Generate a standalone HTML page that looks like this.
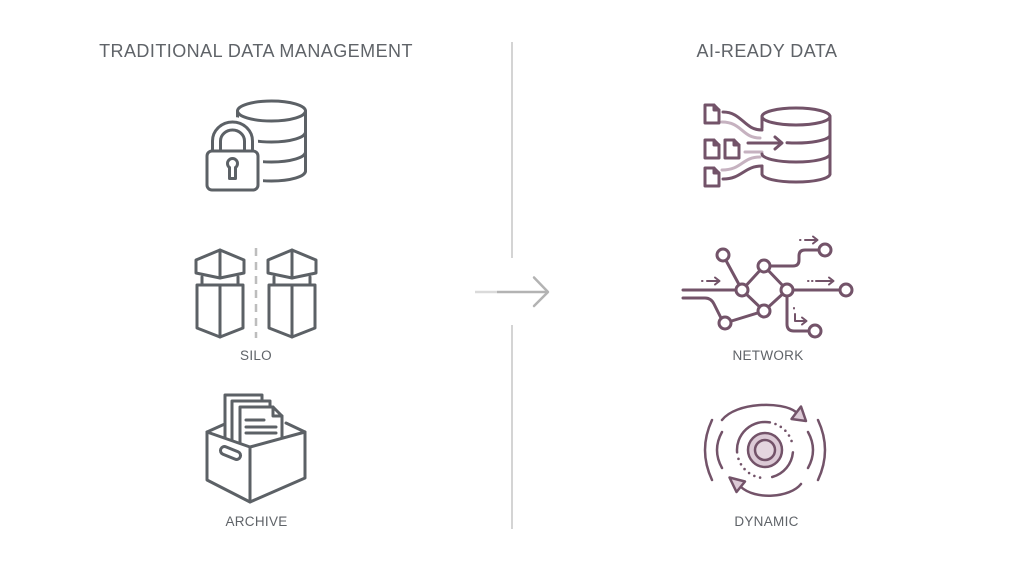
<!DOCTYPE html>
<html>
<head>
<meta charset="utf-8">
<style>
  html,body{margin:0;padding:0;background:#ffffff;}
  svg{display:block;}
  text{font-family:"Liberation Sans",sans-serif;fill:#5f6368;}
</style>
</head>
<body>
<svg width="1024" height="572" viewBox="0 0 1024 572" xmlns="http://www.w3.org/2000/svg">
  <rect width="1024" height="572" fill="#ffffff"/>

  <!-- Titles -->
  <text x="256" y="57" font-size="18" text-anchor="middle" letter-spacing="0.45">TRADITIONAL DATA MANAGEMENT</text>
  <text x="767" y="57" font-size="18" text-anchor="middle" letter-spacing="0.45">AI-READY DATA</text>

  <!-- Divider -->
  <line x1="512" y1="42" x2="512" y2="258" stroke="#d4d4d4" stroke-width="2"/>
  <line x1="512" y1="325" x2="512" y2="529" stroke="#d4d4d4" stroke-width="2"/>

  <!-- Center arrow -->
  <line x1="475" y1="292" x2="497" y2="292" stroke="#dadada" stroke-width="2.5"/>
  <line x1="497" y1="292" x2="547" y2="292" stroke="#b3b3b3" stroke-width="2.5"/>
  <polyline points="534,277.5 548,292 534,306" fill="none" stroke="#b3b3b3" stroke-width="2.5" stroke-linecap="round" stroke-linejoin="round"/>

  <!-- ============ LEFT: Lock + DB ============ -->
  <g fill="none" stroke="#5c6166" stroke-width="3" stroke-linecap="round" stroke-linejoin="round">
    <ellipse cx="271.5" cy="111" rx="34" ry="10"/>
    <line x1="305.5" y1="111" x2="305.5" y2="171"/>
    <line x1="237.5" y1="111" x2="237.5" y2="150"/>
    <path d="M237.5,132 A34,10 0 0 0 305.5,132"/>
    <path d="M237.5,152 A34,10 0 0 0 305.5,152"/>
    <path d="M237.5,171 A34,10 0 0 0 305.5,171"/>
  </g>
  <g fill="#ffffff" stroke="#ffffff" stroke-width="10" stroke-linejoin="round">
    <rect x="207" y="151" width="51" height="39" rx="5"/>
    <path d="M212,152 V141 A20.5,19 0 0 1 253,141 V152 Z"/>
  </g>
  <g fill="#ffffff" stroke="#5c6166" stroke-width="3" stroke-linecap="round" stroke-linejoin="round">
    <path d="M212.5,152 V141 A20,19 0 0 1 252.5,141 V152" fill="none"/>
    <path d="M220.5,152 V141 A12,11 0 0 1 244.5,141 V152" fill="none"/>
    <rect x="207" y="151" width="51" height="39" rx="5"/>
    <path d="M229.5,167.5 A5,5 0 1 1 235.5,167.5 L235.5,178.5 L229.5,178.5 Z"/>
  </g>

  <!-- ============ LEFT: Silo ============ -->
  <g fill="none" stroke="#5c6166" stroke-width="3" stroke-linecap="round" stroke-linejoin="round">
    <polygon points="196,260 220,250 244,260 244,273 220,278 196,273"/>
    <line x1="220" y1="250" x2="220" y2="278"/>
    <polyline points="202,277 202,285"/>
    <polyline points="238,277 238,285"/>
    <polygon points="197,285 243,285 243,328 220,337 197,328"/>
    <line x1="220" y1="285" x2="220" y2="337"/>
    <polygon points="268,260 292,250 316,260 316,273 292,278 268,273"/>
    <line x1="292" y1="250" x2="292" y2="278"/>
    <polyline points="274,277 274,285"/>
    <polyline points="310,277 310,285"/>
    <polygon points="269,285 315,285 315,328 292,337 269,328"/>
    <line x1="292" y1="285" x2="292" y2="337"/>
  </g>
  <line x1="256" y1="248" x2="256" y2="338" stroke="#bdbdbd" stroke-width="2.5" stroke-dasharray="8 6"/>
  <text x="256" y="360" font-size="13.5" text-anchor="middle" letter-spacing="0.3">SILO</text>

  <!-- ============ LEFT: Archive ============ -->
  <g fill="#ffffff" stroke="#5c6166" stroke-width="3" stroke-linecap="round" stroke-linejoin="round">
    <line x1="207" y1="432" x2="227" y2="423"/>
    <line x1="305" y1="432" x2="286" y2="423"/>
    <path d="M225,440 V395 H262 V440"/>
    <path d="M232,444 V401 H270 V444"/>
    <path d="M240,446 V407 H273 L282,416 V446"/>
    <path d="M273,407 V416 H282" fill="none"/>
    <line x1="246" y1="420" x2="264" y2="420"/>
    <line x1="246" y1="427" x2="276" y2="427"/>
    <line x1="246" y1="433" x2="276" y2="433"/>
    <polygon points="207,432 250,447 250,502 207,480"/>
    <polygon points="250,447 305,432 305,478 250,502"/>
  </g>
  <rect x="220" y="449" width="21" height="8" rx="4" fill="none" stroke="#5c6166" stroke-width="3" transform="rotate(22 230.5 453)"/>
  <text x="256.5" y="526" font-size="13.5" text-anchor="middle" letter-spacing="0.3">ARCHIVE</text>

  <!-- ============ RIGHT: Files -> DB ============ -->
  <g fill="none" stroke="#c6b2c0" stroke-width="3" stroke-linecap="round">
    <path d="M722,122 C742,122 742,138 760,138"/>
    <path d="M745,152 H762"/>
    <path d="M722,170 C742,170 742,157 760,157"/>
  </g>
  <g fill="none" stroke="#735369" stroke-width="3" stroke-linecap="round" stroke-linejoin="round">
    <path d="M705,105 H714 L719,110 V123 H705 Z"/><path d="M714,105 V110 H719"/>
    <path d="M705,140 H714 L719,145 V158 H705 Z"/><path d="M714,140 V145 H719"/>
    <path d="M725,140 H734 L739,145 V158 H725 Z"/><path d="M734,140 V145 H739"/>
    <path d="M705,168 H714 L719,173 V186 H705 Z"/><path d="M714,168 V173 H719"/>
    <path d="M723,112 C742,112 744,130 762,130"/>
    <path d="M723,179 C742,179 744,166 762,166"/>
    <path d="M748,143 H781"/>
    <polyline points="775,137 782,143 775,149"/>
    <ellipse cx="796" cy="116.5" rx="34" ry="8.5"/>
    <line x1="830" y1="116.5" x2="830" y2="174"/>
    <line x1="762" y1="116.5" x2="762" y2="128"/>
    <path d="M787,142.7 A34,8 0 0 0 830,135"/>
    <path d="M762,154 A34,8 0 0 0 830,154"/>
    <line x1="762" y1="166" x2="762" y2="174"/>
    <path d="M762,174 A34,8 0 0 0 830,174"/>
  </g>

  <!-- ============ RIGHT: Network ============ -->
  <g fill="none" stroke="#735369" stroke-width="3" stroke-linecap="round" stroke-linejoin="round">
    <path d="M683,290 H742"/>
    <path d="M683,298 H705 Q711,298 714,304 L722,320"/>
    <line x1="723" y1="255" x2="742" y2="290"/>
    <polygon points="742,290 764,266 787,290 764,311"/>
    <line x1="725" y1="323" x2="764" y2="311"/>
    <line x1="787" y1="290" x2="846" y2="290"/>
    <path d="M764,266 H793 Q799,266 799,260 V256 Q799,250 805,250 H825"/>
    <path d="M787,290 V324 Q787,331 794,331 H815"/>
  </g>
  <g fill="#ffffff" stroke="#735369" stroke-width="3">
    <circle cx="723" cy="255" r="6"/>
    <circle cx="742" cy="290" r="6"/>
    <circle cx="764" cy="266" r="6"/>
    <circle cx="787" cy="290" r="6"/>
    <circle cx="764" cy="311" r="6"/>
    <circle cx="725" cy="323" r="6"/>
    <circle cx="825" cy="250" r="6"/>
    <circle cx="846" cy="290" r="6"/>
    <circle cx="815" cy="331" r="6"/>
  </g>
  <g fill="none" stroke="#735369" stroke-width="2" stroke-linecap="round" stroke-linejoin="round">
    <line x1="702" y1="281" x2="702.5" y2="281"/>
    <line x1="707" y1="281" x2="719" y2="281"/>
    <polyline points="715,277.5 719.5,281 715,284.5"/>
    <line x1="800" y1="240" x2="800.5" y2="240"/>
    <line x1="805" y1="240" x2="817" y2="240"/>
    <polyline points="813,236.5 817.5,240 813,243.5"/>
    <line x1="808" y1="281" x2="808.5" y2="281"/>
    <line x1="812" y1="281" x2="812.5" y2="281"/>
    <line x1="816" y1="281" x2="833" y2="281"/>
    <polyline points="829,277.5 833.5,281 829,284.5"/>
    <line x1="794" y1="308" x2="794" y2="308.5"/>
    <polyline points="795,314 795,321 806,321"/>
    <polyline points="802,317.5 806.5,321 802,324.5"/>
  </g>
  <text x="768" y="360" font-size="13.5" text-anchor="middle" letter-spacing="0.3">NETWORK</text>

  <!-- ============ RIGHT: Dynamic ============ -->
  <g fill="none" stroke="#735369" stroke-width="2.5" stroke-linecap="round" stroke-linejoin="round">
    <path d="M712,420 Q698,450 712,480"/>
    <path d="M722,432 Q712,450 722,468"/>
    <path d="M818,420 Q832,450 818,480"/>
    <path d="M808,432 Q818,450 808,468"/>
    <path d="M722,420 C736,402 782,401 796,412"/>
    <path d="M801,484 C790,498 755,500 741,487"/>
    <path d="M737.1,452.4 A28,28 0 0 1 769.9,422.4"/>
    <path d="M792.9,452.4 A28,28 0 0 1 772.2,477"/>
  </g>
  <g fill="none" stroke="#735369" stroke-width="2.6" stroke-linecap="round" stroke-dasharray="0 6">
    <path d="M775.5,424 A28,28 0 0 1 792.6,445.1"/>
    <path d="M760.1,477.6 A28,28 0 0 1 738,457.2"/>
  </g>
  <polygon points="791.5,419 806,421 801,406.5" fill="#dccad6" stroke="#735369" stroke-width="2.5" stroke-linejoin="round"/>
  <polygon points="745,481.5 729.5,477.5 736.5,492" fill="#dccad6" stroke="#735369" stroke-width="2.5" stroke-linejoin="round"/>
  <circle cx="765" cy="450" r="17" fill="#dccad6" stroke="#735369" stroke-width="2.5"/>
  <circle cx="765" cy="450" r="10" fill="#e4d6df" stroke="#735369" stroke-width="2.5"/>
  <text x="766.5" y="526" font-size="13.5" text-anchor="middle" letter-spacing="0.3">DYNAMIC</text>
</svg>
</body>
</html>
